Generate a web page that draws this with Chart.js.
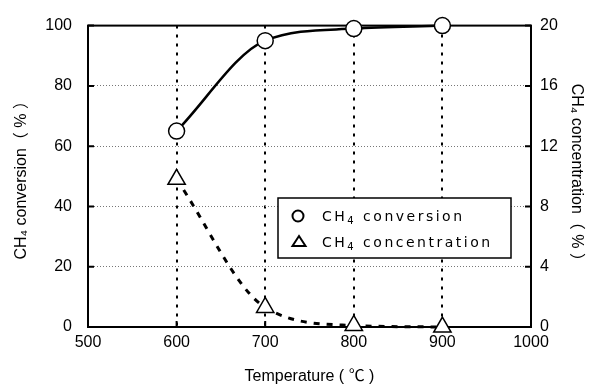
<!DOCTYPE html>
<html>
<head>
<meta charset="utf-8">
<script src="https://cdn.jsdelivr.net/npm/chart.js@4.4.0/dist/chart.umd.min.js"></script>
<style>
  html, body { margin: 0; padding: 0; background: #fff; }
  #wrap { width: 590px; height: 390px; }
</style>
</head>
<body>
<div id="wrap"><canvas id="c" width="590" height="390"></canvas></div>
<script>
// temperature (°C) and the two measured series
const temperatures = [600, 700, 800, 900];
const conversion = [65, 95, 99, 100];      // CH4 conversion, %
const concentration = [9.8, 1.3, 0.1, 0];  // CH4 concentration, %

const xTicks = [500, 600, 700, 800, 900, 1000];
const leftTicks = [0, 20, 40, 60, 80, 100];
const rightTicks = [0, 4, 8, 12, 16, 20];

const tickFont = { family: 'Liberation Sans, Arial, sans-serif', size: 16 };
const titleFont = { family: 'Liberation Sans, Arial, "Noto Sans CJK JP", sans-serif', size: 16 };

function toPoints(ys) {
    return temperatures.map((t, i) => ({ x: t, y: ys[i] }));
}

// writes "CH" + subscript 4 + rest
function drawSub(ctx, x, y, before, sub, after, size) {
    ctx.font = size + 'px "DejaVu Sans", sans-serif';
    ctx.fillText(before, x, y);
    x += ctx.measureText(before).width;
    ctx.font = Math.round(size * 0.7) + 'px "DejaVu Sans", sans-serif';
    ctx.fillText(sub, x, y + 3);
    x += ctx.measureText(sub).width;
    ctx.font = size + 'px "DejaVu Sans", sans-serif';
    ctx.fillText(after, x, y);
}

const framePlugin = {
    id: 'frame',
    beforeDatasetsDraw(chart) {
        const { ctx, chartArea: a, scales } = chart;
        ctx.save();
        ctx.strokeStyle = '#000';
        ctx.lineWidth = 2;
        ctx.strokeRect(a.left, a.top, a.width, a.height);

        // inward tick marks
        ctx.beginPath();
        xTicks.forEach(v => {
            const px = scales.x.getPixelForValue(v);
            ctx.moveTo(px, a.bottom);
            ctx.lineTo(px, a.bottom - 6);
        });
        leftTicks.forEach(v => {
            const py = scales.y.getPixelForValue(v);
            ctx.moveTo(a.left, py);
            ctx.lineTo(a.left + 6, py);
        });
        rightTicks.forEach(v => {
            const py = scales.y2.getPixelForValue(v);
            ctx.moveTo(a.right, py);
            ctx.lineTo(a.right - 6, py);
        });
        ctx.stroke();
        ctx.restore();
    },
    afterDraw(chart) {
        const { ctx } = chart;
        ctx.save();
        // legend box
        const bx = 278, by = 198, bw = 233, bh = 60;
        ctx.fillStyle = '#fff';
        ctx.fillRect(bx, by, bw, bh);
        ctx.strokeStyle = '#000';
        ctx.lineWidth = 1.5;
        ctx.strokeRect(bx, by, bw, bh);

        ctx.lineWidth = 2;
        ctx.beginPath();
        ctx.arc(298, 216, 5.5, 0, Math.PI * 2);
        ctx.stroke();
        ctx.beginPath();
        ctx.moveTo(299, 236);
        ctx.lineTo(305.5, 246);
        ctx.lineTo(292.5, 246);
        ctx.closePath();
        ctx.stroke();

        ctx.fillStyle = '#000';
        ctx.textBaseline = 'alphabetic';
        ctx.letterSpacing = '2.5px';
        drawSub(ctx, 322, 221, 'CH', '4', ' conversion', 14);
        drawSub(ctx, 322, 247, 'CH', '4', ' concentration', 14);
        ctx.restore();
    }
};

new Chart(document.getElementById('c'), {
    type: 'line',
    data: {
        datasets: [
            {
                label: 'CH₄ conversion',
                data: toPoints(conversion),
                yAxisID: 'y',
                borderColor: '#000',
                borderWidth: 2.5,
                cubicInterpolationMode: 'monotone',
                pointStyle: 'circle',
                pointRadius: 8,
                pointBackgroundColor: '#fff',
                pointBorderColor: '#000',
                pointBorderWidth: 1.5,
                clip: false
            },
            {
                label: 'CH₄ concentration',
                data: toPoints(concentration),
                yAxisID: 'y2',
                borderColor: '#000',
                borderWidth: 3,
                borderDash: [6, 7],
                cubicInterpolationMode: 'monotone',
                pointStyle: 'triangle',
                pointRadius: 10,
                pointBackgroundColor: '#fff',
                pointBorderColor: '#000',
                pointBorderWidth: 1.5,
                clip: false
            }
        ]
    },
    options: {
        responsive: false,
        animation: false,
        layout: { padding: { top: 25, left: 0, right: 0, bottom: 0 } },
        plugins: {
            legend: { display: false },
            tooltip: { enabled: false }
        },
        scales: {
            x: {
                type: 'linear',
                min: 500,
                max: 1000,
                afterBuildTicks: s => { s.ticks = xTicks.map(v => ({ value: v })); },
                afterFit: s => { s.height = 63; },
                ticks: { font: tickFont, color: '#000', padding: 6, callback: v => String(v) },
                grid: {
                    drawTicks: false,
                    lineWidth: 2,
                    color: c => (c.tick && (c.tick.value === 500 || c.tick.value === 1000)) ? 'rgba(0,0,0,0)' : '#000'
                },
                border: { display: false, dash: [3, 6] },
                title: { display: true, text: 'Temperature ( ℃ )', font: titleFont, color: '#000', padding: { top: 2 } }
            },
            y: {
                position: 'left',
                min: 0,
                max: 100,
                afterBuildTicks: s => { s.ticks = leftTicks.map(v => ({ value: v })); },
                afterFit: s => { s.width = 88; },
                ticks: { font: tickFont, color: '#000', padding: 16 },
                grid: {
                    drawTicks: false,
                    lineWidth: 1,
                    color: c => (c.tick && (c.tick.value === 0 || c.tick.value === 100)) ? 'rgba(0,0,0,0)' : '#777'
                },
                border: { display: false, dash: [1, 2] },
                title: { display: true, text: 'CH₄ conversion（ % ）', font: titleFont, color: '#000', padding: { top: 12 } }
            },
            y2: {
                position: 'right',
                min: 0,
                max: 20,
                afterBuildTicks: s => { s.ticks = rightTicks.map(v => ({ value: v })); },
                afterFit: s => { s.width = 59; },
                ticks: { font: tickFont, color: '#000', padding: 9 },
                grid: { drawOnChartArea: false, drawTicks: false },
                border: { display: false },
                title: { display: true, text: 'CH₄ concentration（ % ）', font: titleFont, color: '#000' }
            }
        }
    },
    plugins: [framePlugin]
});
</script>
</body>
</html>
